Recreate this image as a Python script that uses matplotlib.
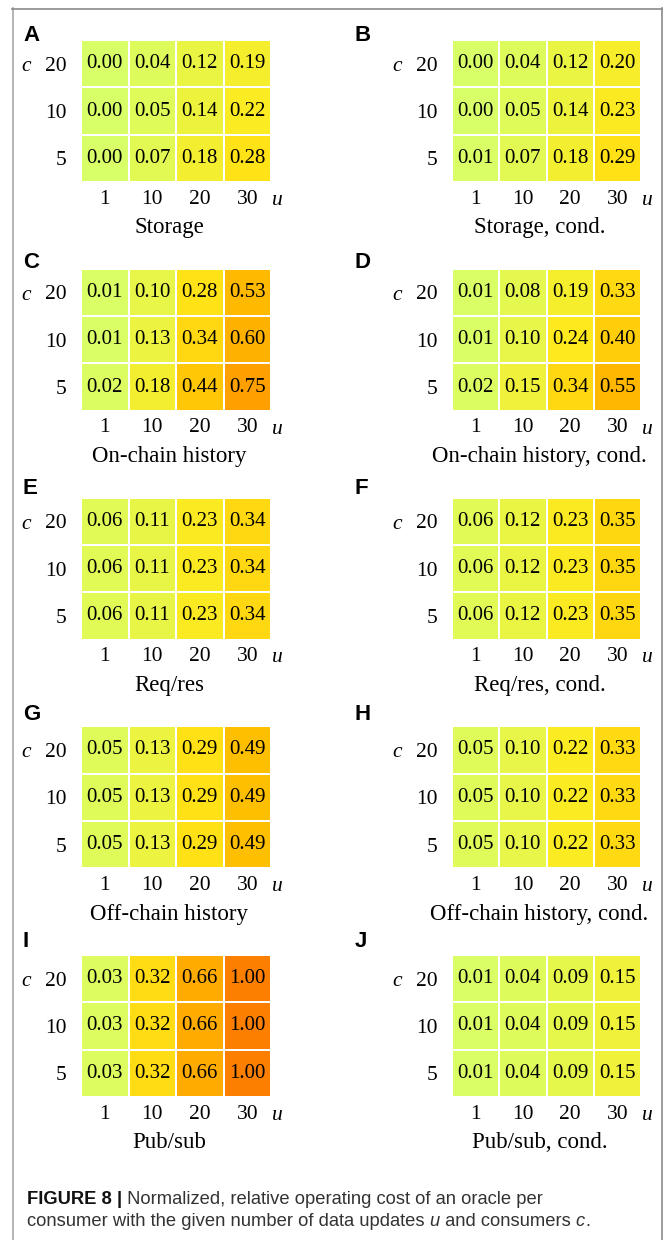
import numpy as np
import matplotlib
matplotlib.use('Agg')
import matplotlib.pyplot as plt
from matplotlib.transforms import ScaledTranslation
from matplotlib.lines import Line2D
from matplotlib.colors import LinearSegmentedColormap

# ---------------- data ----------------
u_labels = ['1', '10', '20', '30']
c_labels = ['20', '10', '5']

storage = [[0.00, 0.04, 0.12, 0.19],
           [0.00, 0.05, 0.14, 0.22],
           [0.00, 0.07, 0.18, 0.28]]
storage_cond = [[0.00, 0.04, 0.12, 0.20],
                [0.00, 0.05, 0.14, 0.23],
                [0.01, 0.07, 0.18, 0.29]]
onchain = [[0.01, 0.10, 0.28, 0.53],
           [0.01, 0.13, 0.34, 0.60],
           [0.02, 0.18, 0.44, 0.75]]
onchain_cond = [[0.01, 0.08, 0.19, 0.33],
                [0.01, 0.10, 0.24, 0.40],
                [0.02, 0.15, 0.34, 0.55]]
reqres = [[0.06, 0.11, 0.23, 0.34],
          [0.06, 0.11, 0.23, 0.34],
          [0.06, 0.11, 0.23, 0.34]]
reqres_cond = [[0.06, 0.12, 0.23, 0.35],
               [0.06, 0.12, 0.23, 0.35],
               [0.06, 0.12, 0.23, 0.35]]
offchain = [[0.05, 0.13, 0.29, 0.49],
            [0.05, 0.13, 0.29, 0.49],
            [0.05, 0.13, 0.29, 0.49]]
offchain_cond = [[0.05, 0.10, 0.22, 0.33],
                 [0.05, 0.10, 0.22, 0.33],
                 [0.05, 0.10, 0.22, 0.33]]
pubsub = [[0.03, 0.32, 0.66, 1.00],
          [0.03, 0.32, 0.66, 1.00],
          [0.03, 0.32, 0.66, 1.00]]
pubsub_cond = [[0.01, 0.04, 0.09, 0.15],
               [0.01, 0.04, 0.09, 0.15],
               [0.01, 0.04, 0.09, 0.15]]

panel_letters = ['A', 'B', 'C', 'D', 'E', 'F', 'G', 'H', 'I', 'J']
panel_titles = ['Storage', 'Storage, cond.',
                'On-chain history', 'On-chain history, cond.',
                'Req/res', 'Req/res, cond.',
                'Off-chain history', 'Off-chain history, cond.',
                'Pub/sub', 'Pub/sub, cond.']
panel_data = [storage, storage_cond, onchain, onchain_cond, reqres,
              reqres_cond, offchain, offchain_cond, pubsub, pubsub_cond]

# ---------------- figure ----------------
W, H = 664, 1240
DPI = 100
plt.rcParams['font.family'] = ['Liberation Serif', 'DejaVu Serif']
fig = plt.figure(figsize=(W / DPI, H / DPI), dpi=DPI)
fig.patch.set_facecolor('white')

cmap = LinearSegmentedColormap.from_list(
    'wistia_green',
    [(0.0, '#d8ff68'), (0.25, '#ffe81a'), (0.5, '#ffbd00'),
     (0.75, '#ffa000'), (1.0, '#fc7f00')])


def px_axes(x0, y0, w, h):
    return fig.add_axes([x0 / W, 1 - (y0 + h) / H, w / W, h / H])


def off(ax, dx, dy):
    return ax.transAxes + ScaledTranslation(dx / DPI, -dy / DPI, fig.dpi_scale_trans)


col_x = [81, 452]
col_w = [190, 189]
hm_h = 142
row_pitch = 228.75
letter_pitch = 226.5

for i, (letter, title, data) in enumerate(zip(panel_letters, panel_titles, panel_data)):
    r, c = divmod(i, 2)
    x0 = col_x[c]
    w = col_w[c]
    y0 = 40 + row_pitch * r
    ax = px_axes(x0, y0, w, hm_h)
    arr = np.array(data)
    ax.pcolormesh(np.arange(5), np.arange(4), arr, cmap=cmap, vmin=0, vmax=1,
                  edgecolors='white', linewidth=1.2)
    ax.set_xlim(0, 4)
    ax.set_ylim(3, 0)
    for rr in range(arr.shape[0]):
        for cc in range(arr.shape[1]):
            ax.text(cc + 0.5, rr + 0.5, f'{arr[rr, cc]:.2f}', ha='center',
                    va='center', fontsize=15, color='black')
    ax.set_xticks(np.arange(4) + 0.5)
    ax.set_xticklabels(u_labels, fontsize=15.5)
    ax.set_yticks(np.arange(3) + 0.5)
    ax.set_yticklabels(c_labels, fontsize=15.5)
    ax.tick_params(axis='both', length=0)
    ax.tick_params(axis='x', pad=5.5)
    ax.tick_params(axis='y', pad=10.5)
    for s in ax.spines.values():
        s.set_visible(False)
    # axis symbols
    ax.text(0, 1 - 0.5 / 3, 'c', transform=off(ax, -55, 3), ha='center',
            va='center', fontsize=15.5, style='italic')
    ax.text(1, 0, 'u', transform=off(ax, 6, 18.5), ha='center', va='center',
            fontsize=15.5, style='italic')
    # panel title
    ax.text(0.5, 0, title, transform=off(ax, -7, 46), ha='center', va='center',
            fontsize=16.5)
    # panel letter
    lx = 23 if c == 0 else 355
    ly = 35.5 + letter_pitch * r
    fig.text(lx / W, 1 - ly / H, letter, ha='left', va='center',
             fontsize=16, fontweight='bold', family='Liberation Sans')

# ---------------- frame ----------------
fig.add_artist(Line2D([12.5 / W, 12.5 / W], [1 - 8 / H, 0], transform=fig.transFigure,
                      color='#a8a8a8', linewidth=1.2))
fig.add_artist(Line2D([12 / W, 661.5 / W], [1 - 8.5 / H, 1 - 8.5 / H],
                      transform=fig.transFigure, color='#8a8a8a', linewidth=1.2))
fig.add_artist(Line2D([661.5 / W, 661.5 / W], [1 - 8 / H, 0], transform=fig.transFigure,
                      color='#8a8a8a', linewidth=1.2))

# ---------------- caption ----------------
cap_fs = 13.2
sans = 'Liberation Sans'
t1 = fig.text(27 / W, 1 - 1197 / H, 'FIGURE 8 |', ha='left', va='center_baseline',
              fontsize=cap_fs, fontweight='bold', family=sans, color='#111111')
t1b = fig.text(0, 0, ' Normalized, relative operating cost of an oracle per',
               fontsize=cap_fs, family=sans, color='#333333')
fig.canvas.draw()
renderer = fig.canvas.get_renderer()
bb = t1.get_window_extent(renderer)
t1b.set_position((bb.x1 / (W), bb.y0 / (H)))
t1b.set_va('bottom')

parts = [('consumer with the given number of data updates ', 'normal'),
         ('u', 'italic'), (' and consumers ', 'normal'), ('c', 'italic'),
         ('.', 'normal')]
x = 27 / W
y = 1 - 1220 / H
prev = None
for txt, st in parts:
    if prev is None:
        t = fig.text(x, y, txt, ha='left', va='center_baseline', fontsize=cap_fs,
                     family=sans, style=st, color='#333333')
    else:
        fig.canvas.draw()
        pb = prev.get_window_extent(renderer)
        t = fig.text(pb.x1 / W, pb.y0 / H, txt, ha='left', va='bottom',
                     fontsize=cap_fs, family=sans, style=st, color='#333333')
    prev = t

fig.savefig('out.png', dpi=DPI, facecolor='white')
